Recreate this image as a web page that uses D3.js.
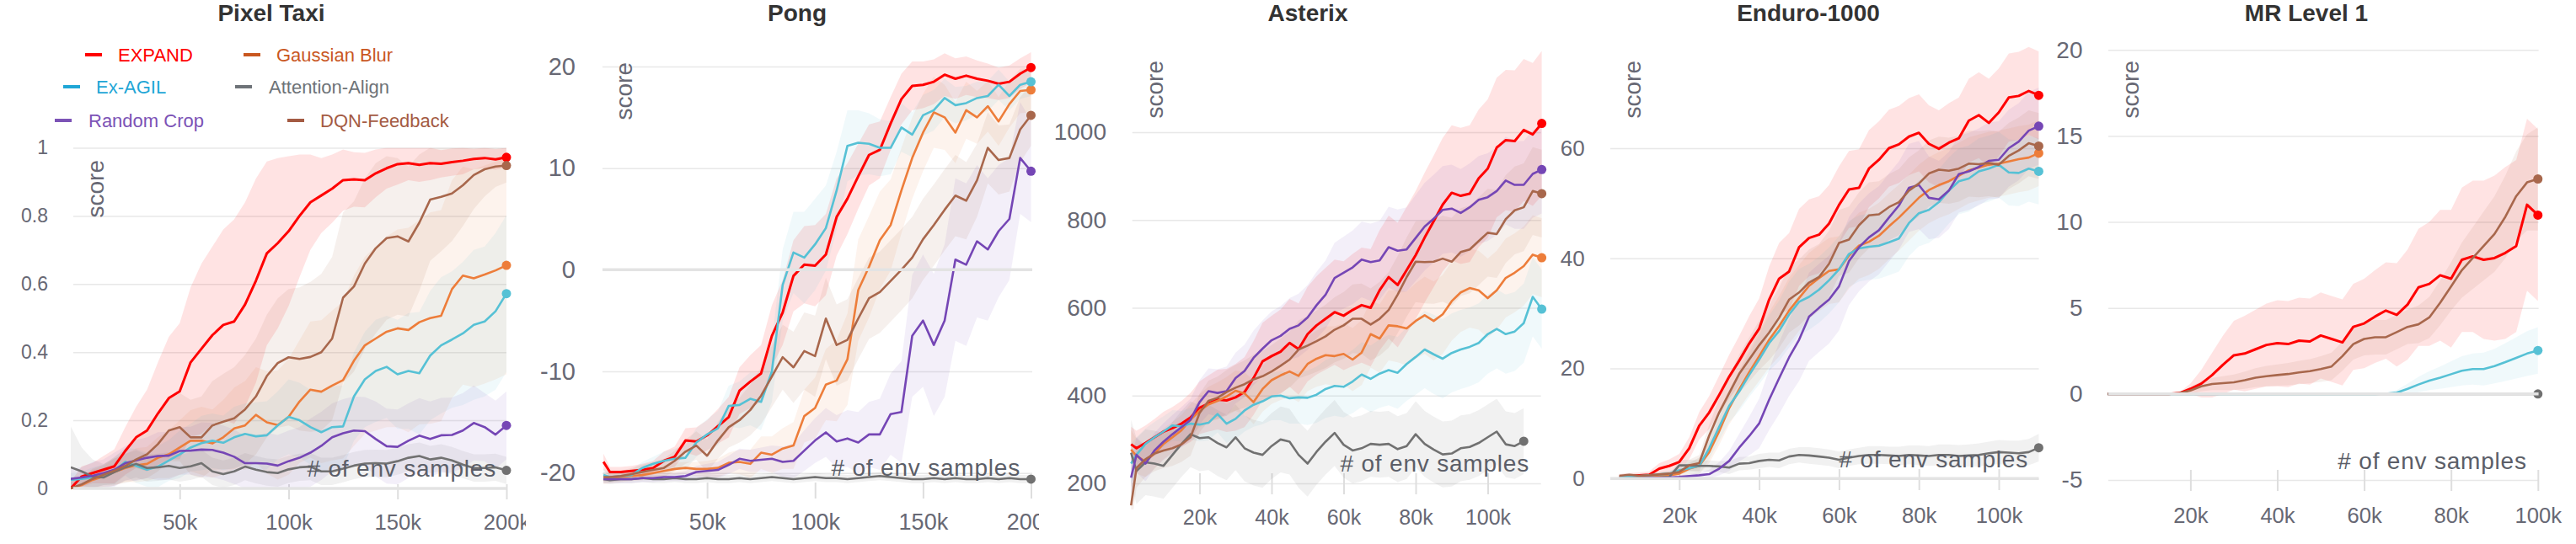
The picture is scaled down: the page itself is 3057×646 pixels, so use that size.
<!DOCTYPE html>
<html><head><meta charset="utf-8">
<script src="https://cdn.jsdelivr.net/npm/d3@7/dist/d3.min.js"></script>
<style>
html,body{margin:0;padding:0;background:#fff;}
svg{display:block;}
</style></head><body>
<svg id="chart" width="3057" height="646"></svg>
<script>
// ---------------- names ----------------
const seriesNames = ["EXPAND","Gaussian Blur","Ex-AGIL","Attention-Align","Random Crop","DQN-Feedback"];
const panelTitles = ["Pixel Taxi","Pong","Asterix","Enduro-1000","MR Level 1"];
const envLabel = "# of env samples";
const yLabel = "score";

// ---------------- Pixel Taxi (x in thousands of env samples) ----------------
const taxiSteps = [0,5,10,15,20,25,30,35,40,45,
 50,55,60,65,70,75,80,85,90,95,
 100,105,110,115,120,125,130,135,140,145,
 150,155,160,165,170,175,180,185,190,195,
 200];
const taxiExpand = [0.0,0.035,0.045,0.055,0.065,0.11,0.15,0.17,0.22,0.265,
 0.285,0.37,0.41,0.45,0.48,0.49,0.54,0.61,0.69,0.72,
 0.755,0.8,0.84,0.86,0.88,0.905,0.907,0.905,0.925,0.94,
 0.952,0.955,0.95,0.955,0.953,0.958,0.962,0.967,0.97,0.966,
 0.972];
const taxiBlur = [0.0,0.01,0.025,0.035,0.048,0.06,0.068,0.072,0.09,0.1,
 0.12,0.14,0.14,0.132,0.15,0.176,0.185,0.216,0.194,0.186,
 0.21,0.255,0.29,0.284,0.302,0.318,0.375,0.42,0.44,0.46,
 0.47,0.465,0.488,0.5,0.507,0.585,0.625,0.617,0.628,0.64,
 0.655];
const taxiAgil = [0.025,0.028,0.032,0.04,0.052,0.078,0.066,0.055,0.064,0.082,
 0.1,0.12,0.133,0.14,0.134,0.15,0.16,0.153,0.156,0.185,
 0.21,0.2,0.18,0.165,0.18,0.182,0.27,0.32,0.345,0.357,
 0.335,0.345,0.338,0.39,0.42,0.437,0.455,0.48,0.49,0.52,
 0.572];
const taxiAlign = [0.062,0.05,0.035,0.032,0.048,0.062,0.072,0.06,0.062,0.066,
 0.06,0.065,0.074,0.05,0.042,0.05,0.064,0.055,0.048,0.045,
 0.056,0.062,0.064,0.05,0.05,0.058,0.067,0.073,0.074,0.073,
 0.08,0.09,0.095,0.085,0.09,0.082,0.07,0.06,0.06,0.062,
 0.053];
const taxiCrop = [0.028,0.032,0.037,0.045,0.055,0.074,0.082,0.09,0.095,0.096,
 0.11,0.111,0.114,0.113,0.105,0.093,0.074,0.074,0.073,0.067,
 0.08,0.09,0.105,0.125,0.15,0.162,0.17,0.168,0.145,0.124,
 0.122,0.14,0.155,0.145,0.156,0.157,0.17,0.192,0.18,0.158,
 0.185];
const taxiFeedback = [0.0,0.012,0.028,0.04,0.052,0.066,0.085,0.1,0.13,0.17,
 0.18,0.15,0.15,0.185,0.196,0.206,0.232,0.27,0.33,0.368,
 0.385,0.38,0.386,0.4,0.44,0.56,0.593,0.66,0.705,0.735,
 0.74,0.725,0.78,0.848,0.856,0.866,0.89,0.92,0.937,0.945,
 0.948];
const taxiExpandSd = [0.02,0.03,0.03,0.04,0.05,0.07,0.09,0.12,0.15,0.18,
 0.2,0.22,0.25,0.26,0.28,0.3,0.3,0.3,0.27,0.25,
 0.22,0.18,0.14,0.11,0.1,0.09,0.08,0.08,0.07,0.06,
 0.06,0.05,0.05,0.05,0.04,0.04,0.04,0.03,0.03,0.03,
 0.03];
const taxiBlurSd = [0.02,0.02,0.03,0.03,0.04,0.04,0.05,0.05,0.06,0.07,
 0.08,0.09,0.1,0.1,0.11,0.12,0.13,0.14,0.15,0.16,
 0.17,0.18,0.2,0.21,0.22,0.23,0.25,0.26,0.27,0.28,
 0.29,0.3,0.3,0.31,0.31,0.32,0.32,0.32,0.32,0.32,
 0.32];
const taxiAgilSd = [0.02,0.02,0.03,0.03,0.04,0.04,0.05,0.05,0.06,0.06,
 0.07,0.07,0.08,0.08,0.08,0.09,0.09,0.1,0.1,0.1,
 0.11,0.11,0.11,0.12,0.12,0.12,0.13,0.14,0.15,0.15,
 0.16,0.17,0.18,0.19,0.2,0.2,0.21,0.22,0.22,0.23,
 0.23];
const taxiAlignSd = [0.12,0.07,0.05,0.04,0.04,0.04,0.04,0.04,0.04,0.04,
 0.04,0.04,0.04,0.04,0.04,0.04,0.04,0.04,0.04,0.04,
 0.04,0.04,0.04,0.04,0.04,0.04,0.04,0.04,0.04,0.04,
 0.04,0.04,0.04,0.04,0.04,0.04,0.04,0.04,0.04,0.04,
 0.04];
const taxiCropSd = [0.03,0.03,0.04,0.04,0.05,0.05,0.06,0.06,0.07,0.07,
 0.07,0.07,0.08,0.08,0.08,0.08,0.08,0.08,0.09,0.09,
 0.09,0.09,0.1,0.1,0.1,0.1,0.1,0.1,0.11,0.11,
 0.11,0.11,0.11,0.11,0.11,0.11,0.11,0.11,0.1,0.1,
 0.1];
const taxiFeedbackSd = [0.02,0.02,0.03,0.03,0.04,0.05,0.06,0.07,0.08,0.09,
 0.1,0.11,0.12,0.13,0.14,0.15,0.16,0.17,0.18,0.19,
 0.2,0.21,0.22,0.23,0.24,0.25,0.25,0.25,0.25,0.24,
 0.23,0.22,0.2,0.18,0.16,0.14,0.12,0.1,0.08,0.06,
 0.05];
const taxiYTicks = [0,0.2,0.4,0.6,0.8,1];
const taxiXTicks = [50,100,150,200];

// ---------------- Pong ----------------
const pongSteps = [2,5,10,15,20,25,30,35,40,45,
 50,55,60,65,70,75,80,85,90,95,
 100,105,110,115,120,125,130,135,140,145,
 150,155,160,165,170,175,180,185,190,195,
 200];
const pongExpand = [-18.9,-19.9,-19.9,-19.8,-19.7,-19.5,-18.8,-18.4,-16.8,-16.9,
 -16.3,-15.4,-14.5,-11.9,-11.0,-10.2,-6.5,-4.2,-0.6,0.5,
 0.4,1.5,5.2,7.0,9.2,11.3,11.8,14.4,16.8,18.1,
 18.2,18.5,19.2,18.8,19.1,18.8,18.6,18.3,18.5,19.3,
 19.9];
const pongBlur = [-20.6,-20.5,-20.4,-20.3,-20.2,-20.0,-19.8,-19.6,-19.5,-19.6,
 -19.6,-19.5,-19.0,-18.9,-19.1,-18.0,-18.2,-17.6,-17.3,-14.4,
 -13.6,-11.3,-10.9,-8.8,-2.0,0.3,2.9,4.4,7.8,11.0,
 13.5,15.5,15.0,13.5,15.7,15.0,16.1,14.6,16.3,17.6,
 17.7];
const pongAgil = [-20.2,-20.4,-20.3,-20.2,-19.5,-19.1,-18.8,-18.6,-18.5,-17.0,
 -16.2,-15.6,-13.4,-13.3,-12.7,-13.0,-10.0,-1.5,1.7,1.2,
 2.5,4.1,7.8,12.2,12.5,12.4,12.0,12.0,14.0,13.3,
 15.2,15.7,16.9,16.2,16.4,16.9,17.1,18.2,17.1,18.2,
 18.5];
const pongAlign = [-20.6,-20.7,-20.6,-20.6,-20.5,-20.6,-20.6,-20.5,-20.6,-20.6,
 -20.5,-20.6,-20.6,-20.5,-20.6,-20.5,-20.4,-20.5,-20.6,-20.5,
 -20.4,-20.5,-20.5,-20.6,-20.5,-20.4,-20.3,-20.4,-20.5,-20.6,
 -20.6,-20.5,-20.6,-20.5,-20.6,-20.6,-20.5,-20.6,-20.5,-20.6,
 -20.6];
const pongCrop = [-20.6,-20.6,-20.6,-20.6,-20.5,-20.5,-20.4,-20.4,-20.3,-19.9,
 -19.8,-19.7,-19.2,-18.6,-18.8,-18.7,-18.6,-18.9,-18.8,-17.8,
 -16.8,-16.0,-16.9,-16.6,-17.0,-16.2,-16.2,-14.2,-14.0,-6.5,
 -5.0,-7.4,-5.0,1.0,0.5,2.8,2.0,3.8,5.0,11.0,
 9.7];
const pongFeedback = [-20.4,-20.4,-20.3,-20.1,-19.9,-19.7,-19.5,-18.8,-17.9,-17.3,
 -18.3,-16.8,-15.5,-14.8,-13.8,-12.4,-10.5,-8.6,-9.6,-8.0,
 -8.5,-4.8,-7.4,-6.9,-4.8,-2.8,-2.2,-1.1,0.0,1.2,
 3.0,4.4,5.9,7.3,6.8,8.8,12.0,10.8,11.0,13.8,
 15.2];
const pongExpandSd = [0.8,0.5,0.5,0.5,0.6,0.7,0.9,1.0,1.2,1.4,
 1.5,1.7,2.0,2.3,2.6,2.8,3.0,3.2,3.5,3.8,
 4.0,4.0,3.8,3.5,3.2,3.0,2.8,2.6,2.5,2.4,
 2.3,2.2,2.1,2.0,1.9,1.8,1.7,1.6,1.6,1.5,
 1.5];
const pongBlurSd = [0.5,0.5,0.5,0.5,0.5,0.5,0.5,0.6,0.6,0.7,
 0.8,0.9,1.0,1.2,1.4,1.6,1.8,2.0,2.3,2.6,
 3.0,3.5,4.0,4.5,5.0,5.0,4.8,4.5,4.2,4.0,
 3.8,3.5,3.2,3.0,2.8,2.6,2.5,2.4,2.3,2.2,
 2.2];
const pongAgilSd = [0.6,0.5,0.5,0.5,0.6,0.7,0.9,1.0,1.2,1.4,
 1.5,1.7,2.0,2.3,2.6,2.8,3.0,3.5,4.0,4.5,
 4.5,4.2,3.8,3.5,3.2,3.0,2.8,2.6,2.4,2.2,
 2.0,2.0,1.9,1.8,1.7,1.6,1.5,1.5,1.4,1.4,
 1.4];
const pongAlignSd = [0.4,0.4,0.4,0.4,0.4,0.4,0.4,0.4,0.4,0.4,
 0.4,0.4,0.4,0.4,0.4,0.4,0.4,0.4,0.4,0.4,
 0.4,0.4,0.4,0.4,0.4,0.4,0.4,0.4,0.4,0.4,
 0.4,0.4,0.4,0.4,0.4,0.4,0.4,0.4,0.4,0.4,
 0.4];
const pongCropSd = [0.4,0.4,0.4,0.4,0.4,0.4,0.4,0.4,0.5,0.6,
 0.7,0.8,0.9,1.0,1.1,1.2,1.3,1.5,1.7,2.0,
 2.2,2.4,2.6,2.8,3.0,3.2,3.5,4.0,5.0,6.0,
 6.5,7.0,7.5,8.0,8.0,7.5,7.0,6.5,6.0,5.5,
 5.0];
const pongFeedbackSd = [0.5,0.5,0.5,0.6,0.7,0.8,0.9,1.0,1.2,1.4,
 1.6,1.8,2.0,2.2,2.5,2.8,3.0,3.2,3.5,3.8,
 4.0,4.0,4.0,4.0,4.0,4.0,4.0,4.0,4.0,4.0,
 4.0,4.0,4.0,4.0,3.8,3.6,3.5,3.4,3.3,3.2,
 3.0];
const pongYTicks = [-20,-10,0,10,20];
const pongXTicks = [50,100,150,200];

// ---------------- Asterix ----------------
const astSteps = [1,2.5,5,7.5,10,12.5,15,17.5,20,22.5,
 25,27.5,30,32.5,35,37.5,40,42.5,45,47.5,
 50,52.5,55,57.5,60,62.5,65,67.5,70,72.5,
 75,77.5,80,82.5,85,87.5,90,92.5,95,97.5,
 100,102.5,105,107.5,110,112.5,115];
const astExpand = [289,280,292,305,318,326,336,350,372,382,
 391,389,396,408,440,478,490,500,520,506,
 540,560,575,590,582,595,606,600,640,670,
 652,686,720,760,797,835,862,855,860,895,
 917,965,982,980,1005,995,1020];
const astBlur = [277,262,250,268,290,305,321,345,365,380,
 388,398,411,405,385,415,435,446,455,445,
 472,484,492,490,495,482,498,540,530,560,
 558,553,570,583,570,585,615,635,645,640,
 622,640,668,680,695,721,714];
const astAgil = [245,265,290,305,318,332,330,336,334,338,
 358,336,347,366,379,387,398,400,394,396,
 395,402,415,422,420,432,448,438,450,458,
 452,472,488,505,494,484,497,505,511,520,
 540,552,540,546,565,625,597];
const astAlign = [270,228,248,245,240,265,290,312,303,305,
 292,282,305,280,270,265,285,300,295,265,
 245,272,295,315,288,275,280,290,288,290,
 278,285,312,290,277,266,268,280,283,292,
 305,318,289,285,296,null,null];
const astCrop = [213,265,245,275,295,312,328,345,385,410,
 406,410,440,456,486,507,526,536,552,560,
 578,606,630,668,680,692,710,704,708,738,
 730,733,759,785,803,823,826,816,829,846,
 852,866,890,880,880,905,915];
const astFeedback = [150,235,255,268,275,280,289,305,360,388,
 395,408,418,426,437,444,455,468,482,505,
 514,524,535,550,560,575,575,562,575,595,
 630,670,705,704,705,712,705,727,733,752,
 771,768,802,822,829,866,860];
const astExpandSd = [40,40,40,42,45,48,52,56,60,64,
 68,72,76,80,84,88,92,96,100,104,
 108,112,116,120,124,128,131,134,137,140,
 142,144,146,148,150,152,154,155,156,157,
 158,159,160,161,162,163,165];
const astBlurSd = [45,40,35,35,35,35,35,36,38,40,
 42,44,46,48,50,52,54,56,58,60,
 62,64,66,68,70,72,74,76,78,80,
 82,84,86,88,90,90,90,90,90,90,
 90,90,90,90,90,90,90];
const astAgilSd = [45,40,35,35,35,35,35,36,38,40,
 42,44,46,48,50,52,54,56,58,60,
 62,64,66,68,70,72,74,76,78,80,
 82,84,86,88,90,90,90,90,90,90,
 90,90,90,90,90,90,90];
const astAlignSd = [75,75,75,75,75,75,75,75,75,75,
 75,75,75,75,75,75,75,75,75,75,
 75,75,75,75,75,75,75,75,75,75,
 75,75,75,75,75,75,75,75,75,75,
 75,75,75,75,75,null,null];
const astCropSd = [40,40,40,40,42,44,46,48,50,52,
 54,56,58,60,62,64,66,68,70,72,
 74,76,78,80,82,84,86,88,90,92,
 94,96,98,100,100,100,100,100,100,100,
 100,100,100,100,100,100,100];
const astFeedbackSd = [50,45,40,40,40,40,40,42,44,46,
 48,50,52,54,56,58,60,62,64,66,
 68,70,72,74,76,78,80,82,84,86,
 88,90,92,94,96,98,100,100,100,100,
 100,100,100,100,100,100,100];
const astYTicks = [200,400,600,800,1000];
const astXTicks = [20,40,60,80,100];

// ---------------- Enduro-1000 ----------------
const endSteps = [5,7.5,10,12.5,15,17.5,20,22.5,25,27.5,
 30,32.5,35,37.5,40,42.5,45,47.5,50,52.5,
 55,57.5,60,62.5,65,67.5,70,72.5,75,77.5,
 80,82.5,85,87.5,90,92.5,95,97.5,100,102.5,
 105,107.5,110];
const endExpand = [0.3,0.5,0.6,0.7,1.8,2.3,3.0,5.5,9.6,12,
 15.2,18.5,21.4,24.5,27.2,32.5,36.3,37.6,42,43.7,
 44.3,46.3,49.7,52.5,52.8,56.3,57.9,60,60.7,62.1,
 62.8,60.8,59.9,61,61.8,65,66,64.6,66.5,69.2,
 69.5,70.4,69.6];
const endBlur = [0,0.1,0.2,0.35,0.5,0.6,0.9,1.8,2.3,4.8,
 8.6,12.8,16.2,19.3,22.2,25.2,27.7,30.5,32.8,35,
 36.4,37.7,38,40.5,42.3,43,44.1,45.8,47.4,49.2,
 51,52.4,53.3,54,55,56,56.5,57,57.2,57.6,
 58,58.3,59.1];
const endAgil = [0.25,0.35,0.45,0.6,0.75,0.9,1.5,1.9,2.3,5.5,
 9.4,13.2,15.8,18.8,21.6,24.6,26.8,29.8,32.1,33,
 34.3,36,38,40.8,41.8,42.1,42.3,42.9,43.6,46.4,
 48.2,48.8,50.2,52.3,54,54.5,55.8,56.3,57,55.6,
 55.5,56.3,55.8];
const endAlign = [0,0.05,0.1,0.1,0.2,0.3,2.4,2.4,2.3,2.3,
 2.2,2.0,2.7,2.8,3.2,3.4,3.3,4.0,4.3,4.2,
 4.0,3.8,3.4,3.8,4.1,4.3,4.3,4.2,4.1,4.3,
 4.2,4.1,4.3,4.3,4.1,4.2,4.3,4.6,4.8,4.7,
 4.6,4.8,5.6];
const endCrop = [0,0,0.05,0.1,0.15,0.2,0.3,0.45,0.6,0.8,
 1.8,3.2,5.6,7.7,10,14.3,18.2,22,25.2,29.4,
 31,32.5,34.9,39.5,42,43.8,45.1,47.4,49.6,52.8,
 53.3,51,50.7,52.3,55.3,55.8,56.6,57.7,57.9,60,
 61.2,63.2,64];
const endFeedback = [0.5,0.7,0.5,0.6,0.75,0.9,1.2,2.4,2.8,7.8,
 12,15.5,19,21.6,24.2,26.5,29.2,32.5,33.8,35.6,
 36.6,39,42.8,43.4,46,47.8,48,49.3,50.2,52.3,
 53.6,55.4,56.1,55.9,56.3,57.2,57.1,57.3,57,58.6,
 59.6,60.9,60.4];
const endExpandSd = [0.5,0.5,0.5,0.6,1,1.2,1.5,2,2.5,3,
 3.5,4,4.5,5,5.5,6,6.5,7,7,7,
 7,7,7,7,7,7,7,7,7,7,
 7,7,7,7.2,7.4,7.6,7.8,8,8,8,
 8,8,8];
const endMidSd = [0.3,0.3,0.3,0.3,0.4,0.5,0.6,1,1.5,2,
 2.5,3,3.5,4,4.5,5,5.5,6,6,6,
 6,6,6,6,6,6,6,6,6,6,
 6,6,6,6,6,6,6,6,6,6,
 6,6,6];
const endAlignSd = [0.2,0.2,0.2,0.2,0.2,0.3,1,1,1,1,
 1,1.2,1.2,1.2,1.3,1.3,1.4,1.4,1.4,1.5,
 1.5,1.5,1.5,1.5,1.5,1.6,1.6,1.6,1.7,1.7,
 1.8,1.8,1.9,1.9,2,2,2.1,2.1,2.2,2.2,
 2.3,2.4,2.5];
const endCropSd = [0.2,0.2,0.2,0.2,0.2,0.2,0.3,0.4,0.5,0.8,
 1.2,1.8,2.5,3.5,4.5,5.5,6.5,7,7.5,8,
 8,8,8,8,8,8,8,8,8,8,
 8,7.5,7,7,7,7,7,7,7,7,
 7,7,7];
const endYTicks = [0,20,40,60];
const endXTicks = [20,40,60,80,100];

// ---------------- MR Level 1 ----------------
const mrSteps = [1,2.5,5,7.5,10,12.5,15,17.5,20,22.5,
 25,27.5,30,32.5,35,37.5,40,42.5,45,47.5,
 50,52.5,55,57.5,60,62.5,65,67.5,70,72.5,
 75,77.5,80,82.5,85,87.5,90,92.5,95,97.5,
 100];
const mrExpand = [0,0,0,0,0,0,0,0.05,0.3,0.6,
 1.1,1.7,2.25,2.35,2.6,2.85,2.95,2.9,3.1,3.05,
 3.4,3.2,3.0,3.9,4.1,4.5,4.85,4.6,5.2,6.2,
 6.4,6.9,6.7,7.8,8.0,7.8,7.9,8.2,8.6,11.0,
 10.4];
const mrBlur = [];
const mrAgil = [0,0,0,0,0,0,0,0,0,0,
 0,0,0,0,0,0,0,0,0,0,
 0,0,0,0,0,0,0.02,0.08,0.3,0.55,
 0.78,0.95,1.15,1.35,1.45,1.45,1.62,1.85,2.1,2.35,
 2.53];
const mrAlign = [0,0,0,0,0,0,0,0,0,0,
 0,0,0,0,0,0,0,0,0,0,
 0,0,0,0,0,0,0,0,0,0,
 0,0,0,0,0,0,0,0,0,0,
 0];
const mrCrop = [];
const mrFeedback = [0,0,0,0,0,0,0,0.05,0.2,0.45,
 0.58,0.63,0.68,0.8,0.95,1.03,1.1,1.16,1.25,1.33,
 1.45,1.6,2.2,2.9,3.2,3.3,3.3,3.6,3.9,4.05,
 4.45,5.3,6.25,7.2,7.9,8.6,9.3,10.3,11.5,12.3,
 12.5];
const mrExpandSd = [0,0,0,0,0,0,0,0.05,0.3,0.8,
 1.3,1.7,2,2.2,2.3,2.4,2.5,2.5,2.5,2.5,
 2.5,2.5,2.5,2.5,2.6,2.7,2.8,3,3.2,3.4,
 3.6,3.8,4,4.2,4.4,4.6,4.8,5,5,5,
 5];
const mrAgilSd = [0,0,0,0,0,0,0,0,0,0,
 0,0,0,0,0,0,0,0,0,0,
 0,0,0,0,0,0,0.05,0.15,0.3,0.45,
 0.55,0.65,0.75,0.85,0.9,0.95,1.0,1.1,1.2,1.3,
 1.35];
const mrFeedbackSd = [0,0,0,0,0,0,0,0.05,0.2,0.3,
 0.35,0.4,0.45,0.5,0.55,0.6,0.62,0.65,0.68,0.7,
 0.75,0.8,0.85,0.9,0.95,1,1,1,1,1.1,
 1.2,1.3,1.4,1.6,1.8,2,2.2,2.4,2.6,2.8,
 3];
const mrYTicks = [-5,0,5,10,15,20];
const mrXTicks = [20,40,60,80,100];

// ---------------- styling ----------------
const FONT = '"Liberation Sans", Arial, Helvetica, sans-serif';
const lineColors = ["#ff0000","#ed7d3a","#56c1d5","#717171","#7546b5","#a8674c"];
const legendColors = ["#ff0000","#c9571f","#1fa6d6","#6e7378","#7c53b6","#a45b43"];
const bandOpacity = [0.11,0.09,0.09,0.1,0.085,0.1];

const panels = [
 { title: panelTitles[0], xs: taxiSteps,
   vals: [taxiExpand,taxiBlur,taxiAgil,taxiAlign,taxiCrop,taxiFeedback],
   sds: [taxiExpandSd,taxiBlurSd,taxiAgilSd,taxiAlignSd,taxiCropSd,taxiFeedbackSd],
   yTicks: taxiYTicks, xTicks: taxiXTicks,
   xDom:[0,200], xRange:[84,601], yDom:[0,1], yRange:[580,175.5],
   grid:[87,601], yLabelRight:57, yFont:23, xFont:25.6, xLabelY:620, tick:[575,593],
   clip:[84,175.5,604,582], labelClip:624, zero:0, clamp:[0,1],
   titleX:322, scoreX:123, scoreY:190, envX:589, envY:566 },
 { title: panelTitles[1], xs: pongSteps,
   vals: [pongExpand,pongBlur,pongAgil,pongAlign,pongCrop,pongFeedback],
   sds: [pongExpandSd,pongBlurSd,pongAgilSd,pongAlignSd,pongCropSd,pongFeedbackSd],
   yTicks: pongYTicks, xTicks: pongXTicks,
   xDom:[0,200], xRange:[711,1223.5], yDom:[-20,20], yRange:[561.7,79],
   grid:[715,1225], yLabelRight:683, yFont:29, xFont:27, xLabelY:619.7, tick:[573,592],
   clip:[712,50,1226,578], labelClip:1233, zero:0, clamp:null,
   titleX:946, scoreX:750, scoreY:74, envX:1211, envY:565 },
 { title: panelTitles[2], xs: astSteps,
   vals: [astExpand,astBlur,astAgil,astAlign,astCrop,astFeedback],
   sds: [astExpandSd,astBlurSd,astAgilSd,astAlignSd,astCropSd,astFeedbackSd],
   yTicks: astYTicks, xTicks: astXTicks,
   xDom:[0,100], xRange:[1338,1765.5], yDom:[200,1000], yRange:[574,157],
   grid:[1343.7,1828.7], yLabelRight:1313, yFont:28, xFont:25, xLabelY:614, tick:[562,587],
   clip:[1340,40,1830,605], labelClip:3057, zero:null, clamp:null,
   titleX:1552, scoreX:1380, scoreY:72, envX:1815, envY:560 },
 { title: panelTitles[3], xs: endSteps,
   vals: [endExpand,endBlur,endAgil,endAlign,endCrop,endFeedback],
   sds: [endExpandSd,endMidSd,endMidSd,endAlignSd,endCropSd,endMidSd],
   yTicks: endYTicks, xTicks: endXTicks,
   xDom:[0,100], xRange:[1898,2372], yDom:[0,60], yRange:[568.3,176],
   grid:[1911,2419.5], yLabelRight:1880.6, yFont:26, xFont:25.6, xLabelY:611.7, tick:[557,582],
   clip:[1905,40,2421,570], labelClip:3057, zero:0, clamp:null,
   titleX:2146, scoreX:1947, scoreY:72, envX:2407, envY:555 },
 { title: panelTitles[4], xs: mrSteps,
   vals: [mrExpand,mrBlur,mrAgil,mrAlign,mrCrop,mrFeedback],
   sds: [mrExpandSd,null,mrAgilSd,null,null,mrFeedbackSd],
   yTicks: mrYTicks, xTicks: mrXTicks,
   xDom:[0,100], xRange:[2496.3,3011.8], yDom:[-5,20], yRange:[570,59.3],
   grid:[2502,3012.6], yLabelRight:2471.5, yFont:28, xFont:25.6, xLabelY:611.7, tick:[558,583],
   clip:[2500,40,3014,570], labelClip:3057, zero:0, clamp:null,
   titleX:2737, scoreX:2537.6, scoreY:72, envX:2998.8, envY:556.7 }
];

const svg = d3.select("#chart");
const defs = svg.append("defs");

function drawPanel(p, pi){
  const x = d3.scaleLinear().domain(p.xDom).range(p.xRange);
  const y = d3.scaleLinear().domain(p.yDom).range(p.yRange);
  const g = svg.append("g");
  const cid = "plotclip"+pi, lid = "labelclip"+pi;
  defs.append("clipPath").attr("id",cid).append("rect")
    .attr("x",p.clip[0]).attr("y",p.clip[1]).attr("width",p.clip[2]-p.clip[0]).attr("height",p.clip[3]-p.clip[1]);
  defs.append("clipPath").attr("id",lid).append("rect")
    .attr("x",p.xRange[0]-200).attr("y",0).attr("width",p.labelClip-(p.xRange[0]-200)).attr("height",646);

  // y axis + grid
  const yAx = g.append("g").attr("transform",`translate(${p.grid[0]},0)`)
    .call(d3.axisLeft(y).tickValues(p.yTicks).tickFormat(d=>String(d))
      .tickSize(-(p.grid[1]-p.grid[0])).tickPadding(p.grid[0]-p.yLabelRight));
  yAx.select(".domain").remove();
  yAx.selectAll(".tick line").attr("stroke","#e8e8e8").attr("stroke-width",1.5);
  yAx.selectAll(".tick text").attr("fill","#676874").attr("font-size",p.yFont).attr("font-family",FONT);

  // x axis
  const xAx = g.append("g").attr("transform",`translate(0,${p.tick[0]})`).attr("clip-path",`url(#${lid})`)
    .call(d3.axisBottom(x).tickValues(p.xTicks).tickFormat(d=>d+"k").tickSize(p.tick[1]-p.tick[0]));
  xAx.select(".domain").remove();
  xAx.selectAll(".tick line").attr("stroke","#dedede").attr("stroke-width",2);
  xAx.selectAll(".tick text").attr("y",p.xLabelY-p.tick[0]).attr("dy","0.36em")
    .attr("fill","#676874").attr("font-size",p.xFont).attr("font-family",FONT);

  const plot = g.append("g").attr("clip-path",`url(#${cid})`);
  const cl = v => p.clamp ? Math.max(p.clamp[0], Math.min(p.clamp[1], v)) : v;

  // bands
  p.vals.forEach((vals,si)=>{
    const sd = p.sds[si];
    if(!sd) return;
    const pts = p.xs.map((xv,i)=>({x:xv,v:vals[i],s:sd[i]})).filter(d=>d.v!=null && d.s!=null);
    if(!pts.length) return;
    plot.append("path").datum(pts)
      .attr("d", d3.area().x(d=>x(d.x)).y0(d=>y(cl(d.v-d.s))).y1(d=>y(cl(d.v+d.s))))
      .attr("fill", lineColors[si]).attr("fill-opacity", bandOpacity[si]).attr("stroke","none");
  });

  // env label
  g.append("text").attr("x",p.envX).attr("y",p.envY).attr("text-anchor","end")
    .attr("font-family",FONT).attr("font-size",28).attr("letter-spacing","0.8px")
    .attr("fill","#5b5e68").text(envLabel);

  // lines
  const lastPts = [];
  p.vals.forEach((vals,si)=>{
    const pts = p.xs.map((xv,i)=>({x:xv,v:vals[i]})).filter(d=>d.v!=null);
    if(!pts.length) return;
    plot.append("path").datum(pts)
      .attr("d", d3.line().x(d=>x(d.x)).y(d=>y(d.v)))
      .attr("fill","none").attr("stroke",lineColors[si])
      .attr("stroke-width", si===0 ? 3 : 2.6).attr("stroke-linejoin","round");
    lastPts.push({si, d: pts[pts.length-1]});
  });
  // end dots
  lastPts.forEach(o=>{
    g.append("circle").attr("cx",x(o.d.x)).attr("cy",y(o.d.v)).attr("r",5.5).attr("fill",lineColors[o.si]);
  });

  // zero line on top
  if(p.zero!=null){
    g.append("line").attr("x1",p.grid[0]).attr("x2",p.grid[1]).attr("y1",y(p.zero)).attr("y2",y(p.zero))
      .attr("stroke","#e3e3e3").attr("stroke-width",3.5);
  }

  // title
  g.append("text").attr("x",p.titleX).attr("y",25).attr("text-anchor","middle")
    .attr("font-family",FONT).attr("font-weight","bold").attr("font-size",28)
    .attr("fill","#333").text(p.title);

  // y label
  g.append("text").attr("transform",`translate(${p.scoreX},${p.scoreY}) rotate(-90)`)
    .attr("text-anchor","end").attr("font-family",FONT).attr("font-size",28)
    .attr("fill","#676874").text(yLabel);
}

panels.forEach(drawPanel);

// legend (Pixel Taxi panel)
const legendRows = [65,103,143];
const legendPos = [{r:0,mx:101,tx:140},{r:0,mx:289,tx:328},{r:1,mx:75,tx:114},{r:1,mx:279,tx:319},{r:2,mx:65,tx:105},{r:2,mx:341,tx:380}];
const lg = svg.append("g");
seriesNames.forEach((name,i)=>{
  const lp = legendPos[i], yy = legendRows[lp.r];
  lg.append("line").attr("x1",lp.mx).attr("x2",lp.mx+20).attr("y1",yy).attr("y2",yy)
    .attr("stroke",legendColors[i]).attr("stroke-width",4);
  lg.append("text").attr("x",lp.tx).attr("y",yy).attr("dy","0.36em")
    .attr("font-family",FONT).attr("font-size",22).attr("fill",legendColors[i]).text(name);
});
</script>
</body></html>
